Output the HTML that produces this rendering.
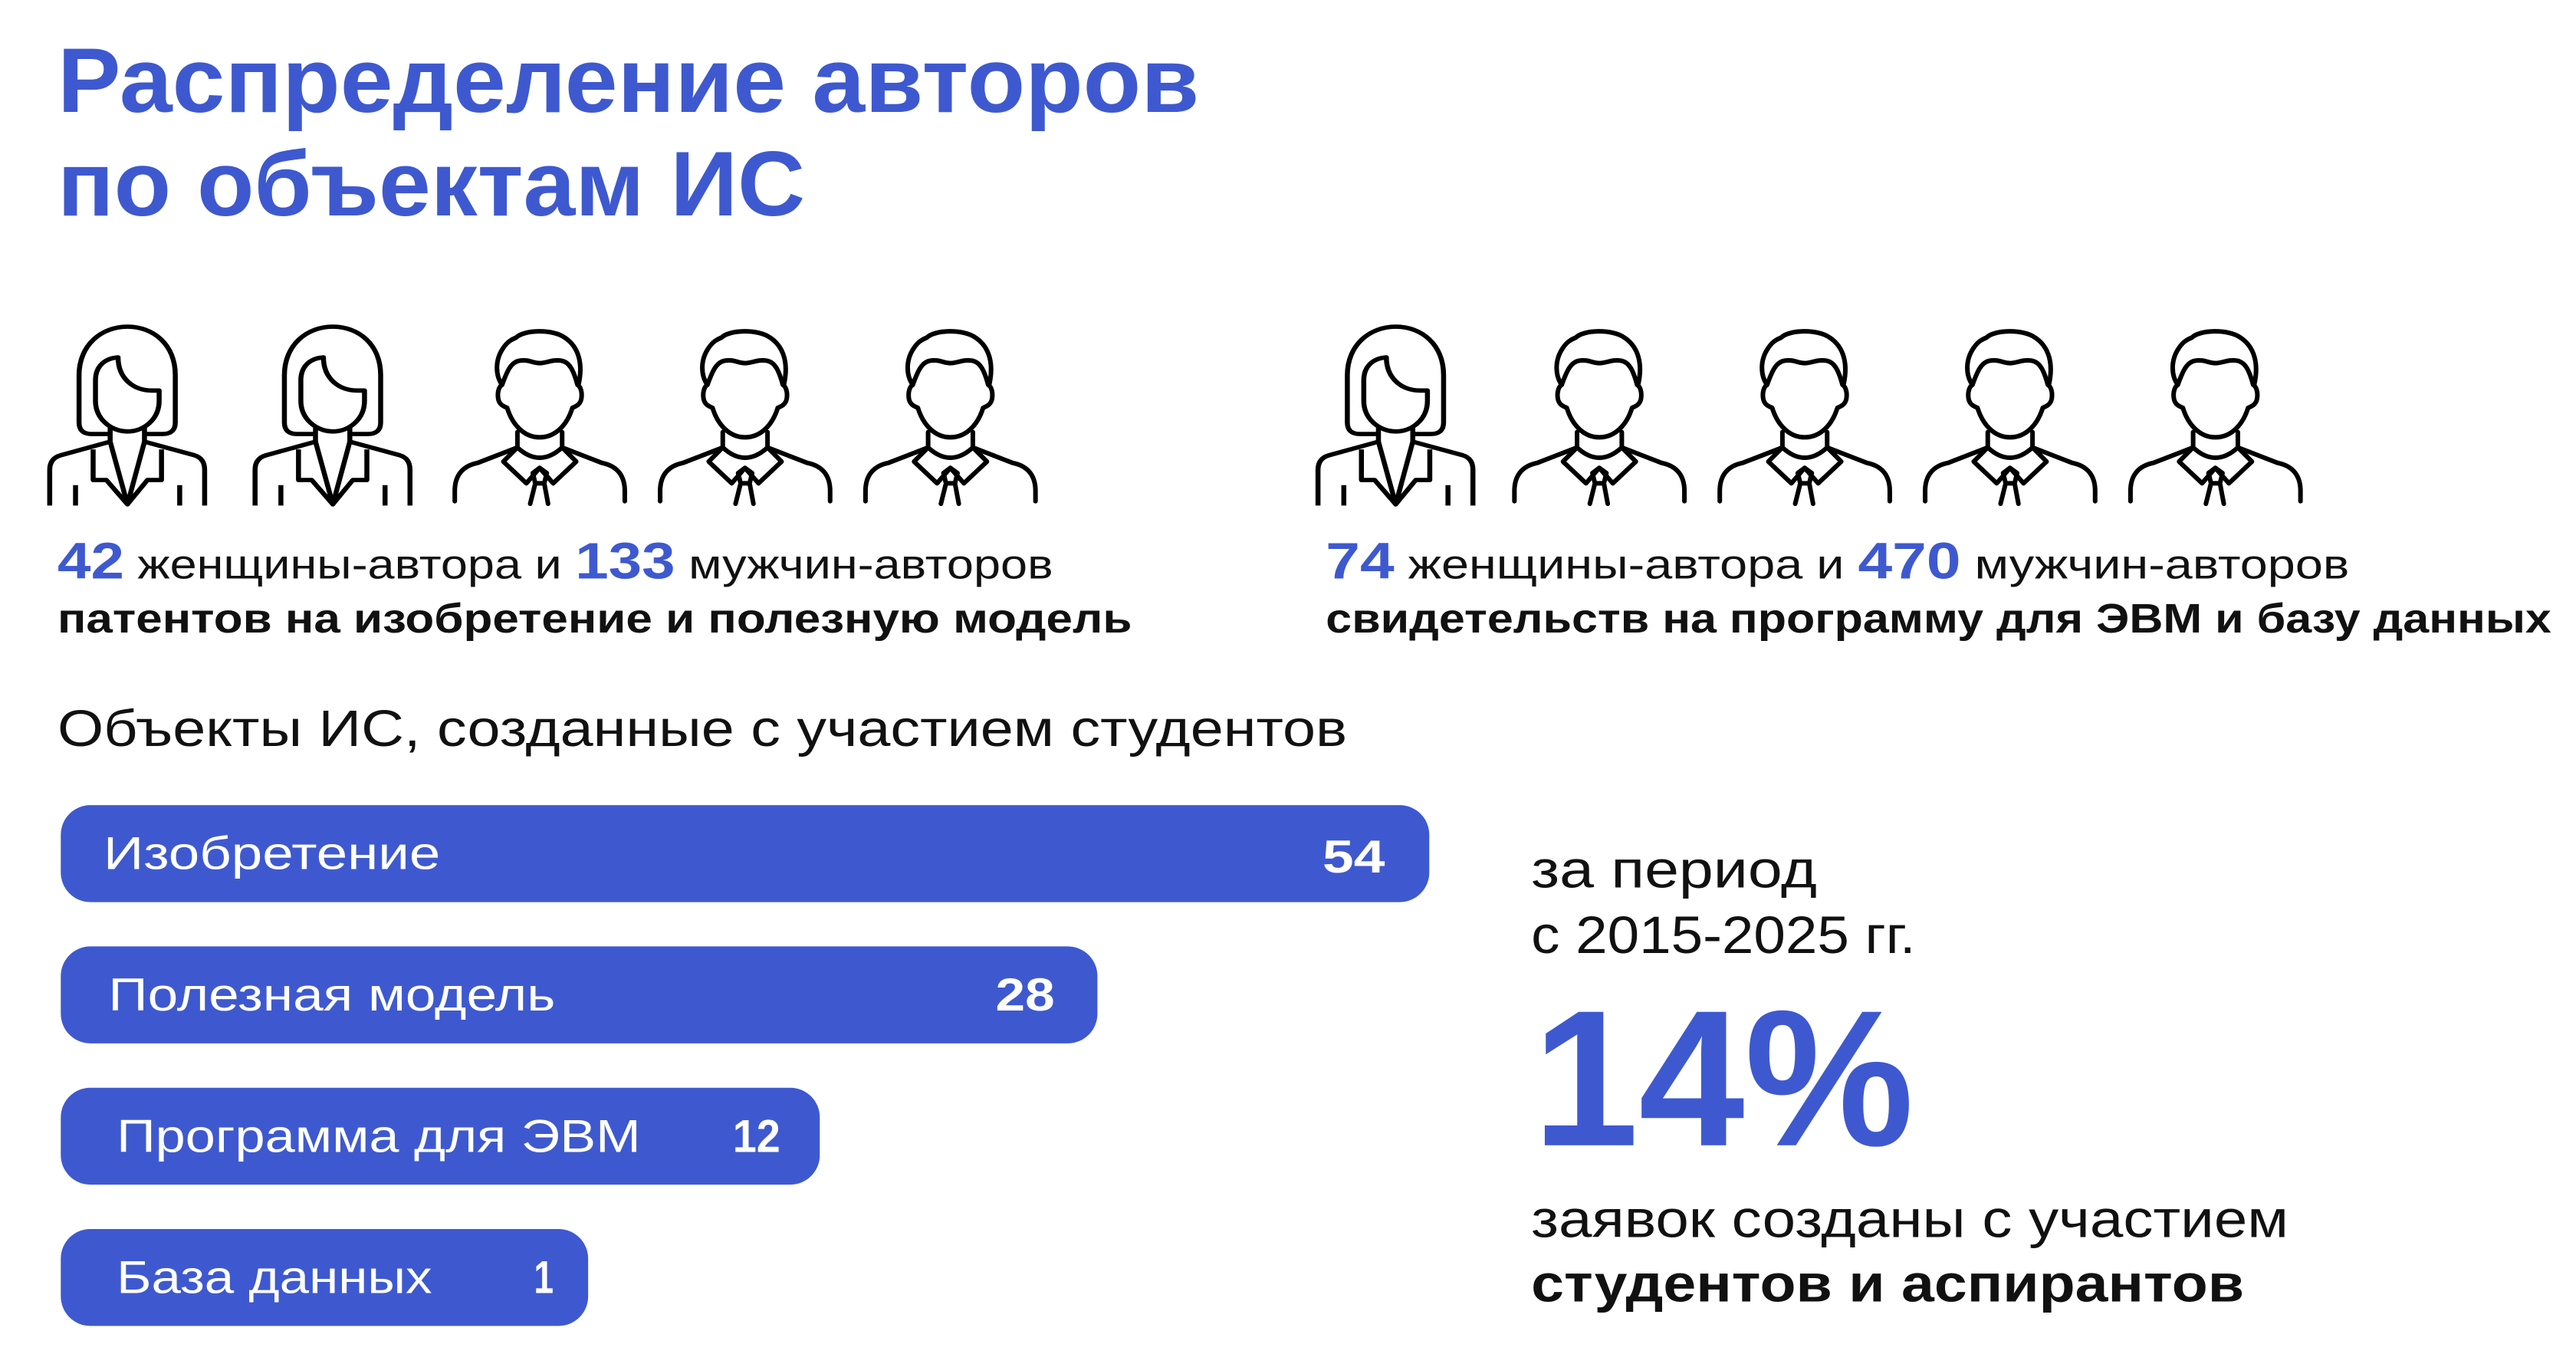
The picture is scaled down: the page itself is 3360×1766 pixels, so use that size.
<!DOCTYPE html>
<html><head><meta charset="utf-8"><style>
html,body{margin:0;padding:0;background:#fff}
svg{display:block}
text{font-family:"Liberation Sans",sans-serif}
</style></head><body>
<svg width="3360" height="1766" viewBox="0 0 1568 824" xmlns="http://www.w3.org/2000/svg">
<defs>
<g id="w" fill="none" stroke="#000" stroke-width="17" stroke-linejoin="round">
<path d="M270,500 H215 Q172,500 172,455 V270 C172,150 250,80 337,80 C425,80 500,150 500,270 V455 Q500,500 455,500 H400"/>
<path d="M305,200 C250,205 228,245 228,290 V370 C228,440 280,490 337,490 C395,490 445,440 445,370 V330 H420 C360,330 305,285 305,200 Z"/>
<path d="M278,475 V530 M395,475 V530"/>
<path d="M72,780 V640 Q72,595 110,583 L278,530 M395,530 L565,583 Q600,595 600,640 V780"/>
<path d="M220,560 V680 H265 L337,775 L405,680 H453 V560"/>
<path d="M278,530 L337,775 L395,530"/>
<path d="M160,700 V780 M515,700 V780"/>
</g>
<g id="m" fill="none" stroke="#000" stroke-width="18" stroke-linejoin="round" stroke-linecap="round">
<path d="M225,275 C200,240 195,180 230,130 C250,100 270,95 280,90 C310,60 420,55 470,90 C530,130 540,200 525,270"/>
<path d="M225,275 C215,280 205,300 210,330 C215,355 235,360 245,365 C265,430 310,480 372,480 C435,480 480,430 500,365 C510,360 530,355 535,330 C540,300 530,280 520,275 C505,220 490,185 455,180 C420,175 400,190 372,190 C345,190 330,175 295,180 C260,185 245,220 225,275 Z"/>
<path d="M285,460 V520 M460,460 V520"/>
<path d="M40,730 V690 C40,620 80,590 130,580 L285,520 M460,520 L615,580 C665,590 705,620 705,690 V730"/>
<path d="M285,520 L230,575 L320,660 L372,600 L425,660 L515,575 L460,520 M285,520 Q372,600 460,520"/>
<path d="M345,620 L372,600 L400,620 L390,660 H355 Z M355,660 L335,740 M390,660 L405,740"/>
</g>
</defs>
<rect width="1568" height="824" fill="#fff"/>
<text x="35" y="68" font-size="56" font-weight="bold" fill="#3e59cf" textLength="695" lengthAdjust="spacingAndGlyphs">Распределение авторов</text>
<text x="35" y="131" font-size="56" font-weight="bold" fill="#3e59cf" textLength="455" lengthAdjust="spacingAndGlyphs">по объектам ИС</text>

<use href="#w" transform="translate(17.4,186.3) scale(0.1786,0.1556)"/>
<use href="#w" transform="translate(142.4,186.3) scale(0.1786,0.1556)"/>
<use href="#m" transform="translate(270.6,191.4) scale(0.1556)"/>
<use href="#m" transform="translate(395.6,191.4) scale(0.1556)"/>
<use href="#m" transform="translate(520.6,191.4) scale(0.1556)"/>
<use href="#w" transform="translate(789.4,186.3) scale(0.1786,0.1556)"/>
<use href="#m" transform="translate(915.6,191.4) scale(0.1556)"/>
<use href="#m" transform="translate(1040.6,191.4) scale(0.1556)"/>
<use href="#m" transform="translate(1165.6,191.4) scale(0.1556)"/>
<use href="#m" transform="translate(1290.6,191.4) scale(0.1556)"/>

<text x="35" y="352" font-size="25" fill="#111" textLength="606" lengthAdjust="spacingAndGlyphs"><tspan font-size="31" font-weight="bold" fill="#3e59cf">42</tspan> женщины-автора и <tspan font-size="31" font-weight="bold" fill="#3e59cf">133</tspan> мужчин-авторов</text>
<text x="35" y="385" font-size="25" font-weight="bold" fill="#111" textLength="654" lengthAdjust="spacingAndGlyphs">патентов на изобретение и полезную модель</text>
<text x="807" y="352" font-size="25" fill="#111" textLength="623" lengthAdjust="spacingAndGlyphs"><tspan font-size="31" font-weight="bold" fill="#3e59cf">74</tspan> женщины-автора и <tspan font-size="31" font-weight="bold" fill="#3e59cf">470</tspan> мужчин-авторов</text>
<text x="807" y="385" font-size="25" font-weight="bold" fill="#111" textLength="746" lengthAdjust="spacingAndGlyphs">свидетельств на программу для ЭВМ и базу данных</text>

<text x="35" y="454" font-size="31" fill="#111" textLength="785" lengthAdjust="spacingAndGlyphs">Объекты ИС, созданные с участием студентов</text>

<g fill="#3e59cf">
<rect x="37" y="490" width="833" height="59" rx="18"/>
<rect x="37" y="576" width="631" height="59" rx="18"/>
<rect x="37" y="662" width="462" height="59" rx="18"/>
<rect x="37" y="748" width="321" height="59" rx="18"/>
</g>
<g fill="#fff" font-size="28">
<text x="63" y="529" textLength="205" lengthAdjust="spacingAndGlyphs">Изобретение</text>
<text x="805" y="531" font-weight="bold" textLength="38" lengthAdjust="spacingAndGlyphs">54</text>
<text x="66" y="615" textLength="272" lengthAdjust="spacingAndGlyphs">Полезная модель</text>
<text x="606" y="615" font-weight="bold" textLength="36" lengthAdjust="spacingAndGlyphs">28</text>
<text x="71" y="701" textLength="319" lengthAdjust="spacingAndGlyphs">Программа для ЭВМ</text>
<text x="446" y="701" font-weight="bold" textLength="29" lengthAdjust="spacingAndGlyphs">12</text>
<text x="71" y="787" textLength="192" lengthAdjust="spacingAndGlyphs">База данных</text>
<text x="325" y="787" font-weight="bold" textLength="12" lengthAdjust="spacingAndGlyphs">1</text>
</g>

<text x="932" y="540" font-size="32" fill="#111" textLength="174" lengthAdjust="spacingAndGlyphs">за период</text>
<text x="932" y="580" font-size="32" fill="#111" textLength="234" lengthAdjust="spacingAndGlyphs">с 2015-2025 гг.</text>
<text x="933" y="697" font-size="118" font-weight="bold" fill="#3e59cf" textLength="232" lengthAdjust="spacingAndGlyphs">14%</text>
<text x="932" y="753" font-size="32" fill="#111" textLength="461" lengthAdjust="spacingAndGlyphs">заявок созданы с участием</text>
<text x="932" y="792" font-size="32" font-weight="bold" fill="#111" textLength="434" lengthAdjust="spacingAndGlyphs">студентов и аспирантов</text>
</svg>
</body></html>
